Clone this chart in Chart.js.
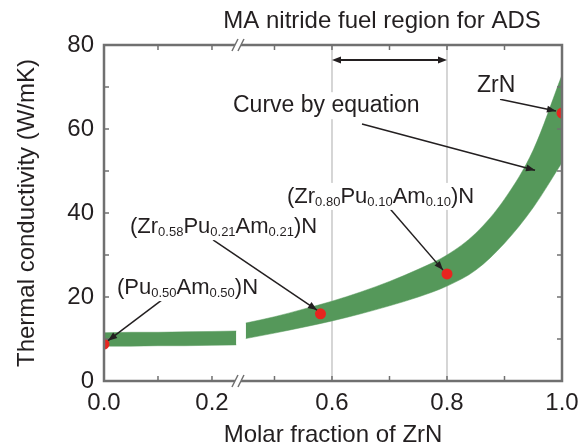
<!DOCTYPE html>
<html>
<head>
<meta charset="utf-8">
<script src="https://cdn.jsdelivr.net/npm/chart.js@4.4.0/dist/chart.umd.min.js"></script>
<style>
  html, body { margin: 0; padding: 0; background: #fff; }
</style>
</head>
<body>
<canvas id="grafico" width="587" height="447"></canvas>
<script>
// curve by equation (green band) - left part, before the axis break
const faixaEsqX = [0, 0.05, 0.10, 0.15, 0.20, 0.245]
const faixaEsqSup = [11.5, 11.6, 11.6, 11.7, 11.8, 11.9]
const faixaEsqInf = [8.3, 8.3, 8.4, 8.4, 8.5, 8.6]

// right part, after the break
const faixaDirX = [0.45, 0.50, 0.55, 0.60, 0.65, 0.70, 0.75, 0.80, 0.85, 0.90, 0.95, 1.00]
const faixaDirSup = [13.8, 15.3, 17.1, 19.0, 21.2, 23.7, 26.6, 30.0, 35.2, 43.3, 55.0, 72.9]
const faixaDirInf = [10.1, 11.4, 12.8, 14.3, 16.0, 17.9, 20.0, 22.6, 26.4, 32.8, 41.3, 52.0]

// measured points (red)
const pontosX = [0, 0.58, 0.80, 1.00]
const pontosY = [8.8, 16.0, 25.5, 63.8]

// x axis ticks
const ticksX = [0, 0.1, 0.2, 0.5, 0.6, 0.7, 0.8, 0.9, 1.0]
const labelsX = ['0.0', '', '0.2', '', '0.6', '', '0.8', '', '1.0']

// MA nitride fuel region for ADS
const regiaoADS = [0.6, 0.8]

const fonte = '"Liberation Sans", Arial, sans-serif'
const corTexto = '#231f20'
const corEixo = '#707070'
const verde = '#55985a'

// the x axis is broken between ~0.25 and ~0.45 (left side a bit narrower)
function eixoX(x) {
    if (x < 0.35) return x * 0.939
    return x - 0.2035
}

// annotations, in axis units (u of the x scale, y value)
const textosQuimicos = [
    { u: 0.0226, y: 20.7, partes: [['(Pu', 0], ['0.50', 1], ['Am', 0], ['0.50', 1], [')N', 0]] },
    { u: 0.0452, y: 35.2, partes: [['(Zr', 0], ['0.58', 1], ['Pu', 0], ['0.21', 1], ['Am', 0], ['0.21', 1], [')N', 0]] },
    { u: 0.3183, y: 42.4, partes: [['(Zr', 0], ['0.80', 1], ['Pu', 0], ['0.10', 1], ['Am', 0], ['0.10', 1], [')N', 0]] },
    { u: 0.2243, y: 64.0, partes: [['Curve by equation', 0]] },
    { u: 0.6487, y: 68.8, partes: [['ZrN', 0]] }
]
const setas = [
    [0.1009, 19.3, 0.007, 9.6],
    [0.1896, 33.6, 0.3704, 16.9],
    [0.4974, 41.0, 0.5896, 26.4],
    [0.4487, 61.2, 0.7496, 50.2],
    [0.6887, 67.1, 0.786, 64.3]
]

function linha(ctx, x1, y1, x2, y2) {
    ctx.beginPath()
    ctx.moveTo(x1, y1)
    ctx.lineTo(x2, y2)
    ctx.stroke()
}

function ponta(ctx, x1, y1, x2, y2) {
    const ang = Math.atan2(y2 - y1, x2 - x1)
    const L = 9, W = 3.5
    ctx.beginPath()
    ctx.moveTo(x2, y2)
    ctx.lineTo(x2 - L * Math.cos(ang) + W * Math.sin(ang), y2 - L * Math.sin(ang) - W * Math.cos(ang))
    ctx.lineTo(x2 - L * Math.cos(ang) - W * Math.sin(ang), y2 - L * Math.sin(ang) + W * Math.cos(ang))
    ctx.closePath()
    ctx.fill()
}

function textoQuimico(ctx, partes, x, base) {
    // measure first, for the white box
    let w = 0
    for (const p of partes) {
        ctx.font = (p[1] ? '13px ' : (p[0].length > 4 ? '23px ' : '22px ')) + fonte
        if (p[0] === 'ZrN') ctx.font = '23px ' + fonte
        w += ctx.measureText(p[0]).width
    }
    ctx.fillStyle = '#fff'
    ctx.fillRect(x - 3, base - 20, w + 6, 27)
    ctx.fillStyle = corTexto
    ctx.textBaseline = 'alphabetic'
    ctx.textAlign = 'left'
    let cx = x
    for (const p of partes) {
        ctx.font = (p[1] ? '13px ' : (p[0].length > 4 ? '23px ' : '22px ')) + fonte
        if (p[0] === 'ZrN') ctx.font = '23px ' + fonte
        ctx.fillText(p[0], cx, base + (p[1] ? 3 : 0))
        cx += ctx.measureText(p[0]).width
    }
}

const desenhos = {
    id: 'desenhos',
    beforeDatasetsDraw(chart) {
        const { ctx, chartArea: a, scales: { x } } = chart
        ctx.save()
        ctx.strokeStyle = '#c8c8c8'
        ctx.lineWidth = 1.5
        for (const v of regiaoADS) {
            const px = x.getPixelForValue(eixoX(v))
            linha(ctx, px, a.top, px, a.bottom)
        }
        ctx.restore()
    },
    afterDatasetsDraw(chart) {
        const { ctx, chartArea: a, scales: { x, y } } = chart
        ctx.save()

        // frame
        ctx.strokeStyle = corEixo
        ctx.lineWidth = 2.5
        ctx.strokeRect(a.left, a.top, a.right - a.left, a.bottom - a.top)

        // inward ticks
        ctx.lineWidth = 1.5
        for (let v = 10; v < 80; v += 10) {
            const py = y.getPixelForValue(v)
            linha(ctx, a.left, py, a.left + 5, py)
            linha(ctx, a.right, py, a.right - 5, py)
        }
        for (const v of ticksX) {
            if (v === 0 || v === 1) continue
            const px = x.getPixelForValue(eixoX(v))
            linha(ctx, px, a.bottom, px, a.bottom - 5)
            linha(ctx, px, a.top, px, a.top + 5)
        }

        // axis break marks
        const bx = x.getPixelForValue(0.233)
        for (const yy of [a.top, a.bottom]) {
            ctx.fillStyle = '#fff'
            ctx.fillRect(bx - 3, yy - 3, 6, 6)
            for (const dx of [-3, 3]) linha(ctx, bx + dx - 3, yy + 6, bx + dx + 3, yy - 6)
        }

        // arrows
        ctx.strokeStyle = corTexto
        ctx.fillStyle = corTexto
        ctx.lineWidth = 1.5
        for (const s of setas) {
            const x1 = x.getPixelForValue(s[0]), y1 = y.getPixelForValue(s[1])
            const x2 = x.getPixelForValue(s[2]), y2 = y.getPixelForValue(s[3])
            linha(ctx, x1, y1, x2, y2)
            ponta(ctx, x1, y1, x2, y2)
        }
        // double arrow for the ADS region
        const ya = y.getPixelForValue(76.4)
        const xa1 = x.getPixelForValue(eixoX(regiaoADS[0])), xa2 = x.getPixelForValue(eixoX(regiaoADS[1]))
        ctx.lineWidth = 2
        linha(ctx, xa1 + 4, ya, xa2 - 4, ya)
        ponta(ctx, xa2, ya, xa1, ya)
        ponta(ctx, xa1, ya, xa2, ya)

        // labels
        for (const t of textosQuimicos) {
            textoQuimico(ctx, t.partes, x.getPixelForValue(t.u), y.getPixelForValue(t.y))
        }

        // top title
        ctx.font = '24px ' + fonte
        ctx.fillStyle = corTexto
        ctx.textAlign = 'center'
        ctx.textBaseline = 'alphabetic'
        ctx.fillText('MA nitride fuel region for ADS', x.getPixelForValue(0.4835), y.getPixelForValue(84.05))

        ctx.restore()
    }
}

const dados = {
    datasets: [
        {
            type: 'scatter',
            data: pontosX.map((v, i) => ({ x: eixoX(v), y: pontosY[i] })),
            backgroundColor: '#e8251f',
            borderWidth: 0,
            pointRadius: 5.5,
            order: -1,
            clip: 0
        },
        {
            data: faixaEsqX.map((v, i) => ({ x: eixoX(v), y: faixaEsqSup[i] })),
            borderColor: verde,
            borderWidth: 0.5,
            backgroundColor: verde,
            pointRadius: 0,
            fill: '+1'
        },
        {
            data: faixaEsqX.map((v, i) => ({ x: eixoX(v), y: faixaEsqInf[i] })),
            borderColor: verde,
            borderWidth: 0.5,
            pointRadius: 0,
            fill: false
        },
        {
            data: faixaDirX.map((v, i) => ({ x: eixoX(v), y: faixaDirSup[i] })),
            borderColor: verde,
            borderWidth: 0.5,
            backgroundColor: verde,
            pointRadius: 0,
            cubicInterpolationMode: 'monotone',
            fill: '+1',
            clip: 0
        },
        {
            data: faixaDirX.map((v, i) => ({ x: eixoX(v), y: faixaDirInf[i] })),
            borderColor: verde,
            borderWidth: 0.5,
            pointRadius: 0,
            cubicInterpolationMode: 'monotone',
            fill: false,
            clip: 0
        }
    ]
}

const config = {
    type: 'line',
    data: dados,
    options: {
        responsive: false,
        animation: false,
        layout: { padding: { left: 0, right: 25, top: 45, bottom: 0 } },
        plugins: {
            legend: { display: false },
            tooltip: { enabled: false }
        },
        scales: {
            x: {
                type: 'linear',
                min: 0,
                max: eixoX(1.0),
                afterBuildTicks: s => { s.ticks = ticksX.map(v => ({ value: eixoX(v) })) },
                afterFit: s => { s.height = 66 },
                grid: { display: false, drawTicks: false },
                border: { display: false },
                ticks: {
                    autoSkip: false,
                    maxRotation: 0,
                    padding: 8,
                    color: corTexto,
                    font: { size: 24, family: fonte },
                    callback: (v, i) => labelsX[i]
                },
                title: {
                    display: true,
                    text: 'Molar fraction of ZrN',
                    color: corTexto,
                    font: { size: 24, family: fonte, lineHeight: 1 },
                    padding: { top: 0, bottom: 0 }
                }
            },
            y: {
                min: 0,
                max: 80,
                afterFit: s => { s.width = 104 },
                grid: { display: false, drawTicks: false },
                border: { display: false },
                ticks: {
                    stepSize: 10,
                    autoSkip: false,
                    padding: 10,
                    color: corTexto,
                    font: { size: 24, family: fonte },
                    callback: v => (v % 20 === 0 ? v : '')
                },
                title: {
                    display: true,
                    text: 'Thermal conductivity (W/mK)',
                    color: corTexto,
                    font: { size: 24, family: fonte },
                    padding: { top: 12.6, bottom: 0 }
                }
            }
        }
    },
    plugins: [desenhos]
}

new Chart(document.getElementById('grafico'), config)
</script>
</body>
</html>
